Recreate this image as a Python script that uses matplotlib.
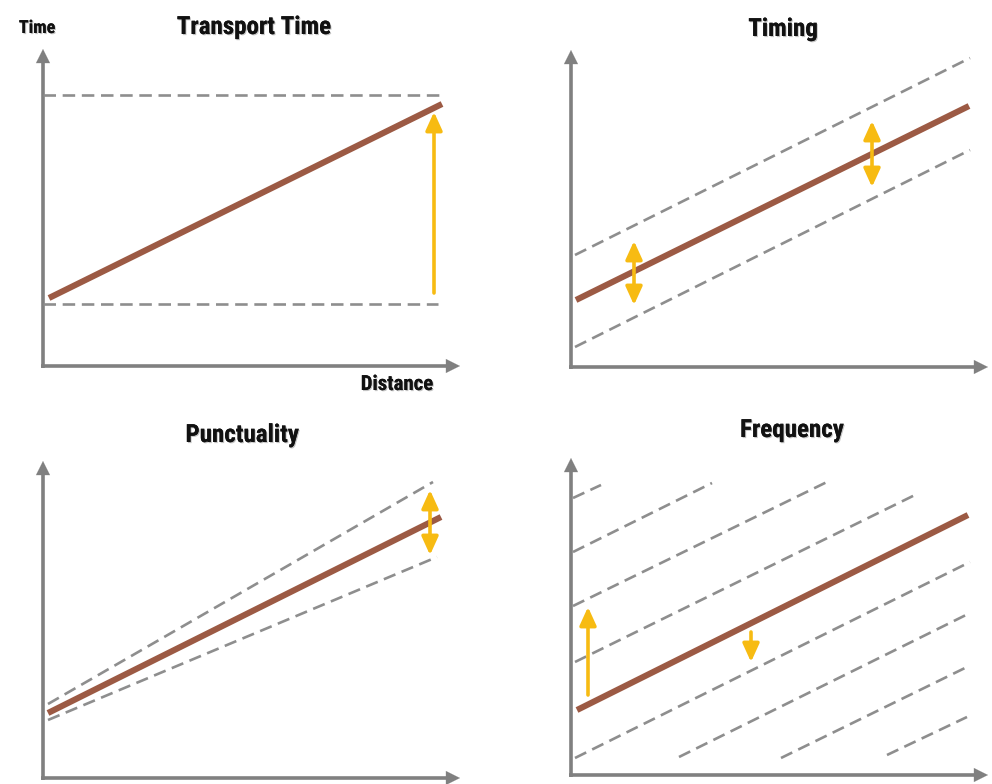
import matplotlib
matplotlib.use("Agg")
import matplotlib.pyplot as plt
import matplotlib.patheffects as pe

# ---------------- data (units: distance / time, origin at each panel's axes corner) -------------
# Panel 1: Transport Time
tt_line_x = [6, 399]
tt_line_y = [68, 262]
tt_upper_y = 271
tt_upper_x = [0, 400]
tt_lower_y = 62
tt_lower_x = [0, 395]
tt_arrow_x = 391
tt_arrow_y = [73, 254]

# Panel 2: Timing
tm_line_x = [5, 398]
tm_line_y = [67, 261]
tm_upper_x = [4, 399]
tm_upper_y = [112, 309]
tm_lower_x = [4, 399]
tm_lower_y = [20, 217]
tm_arrows_x = [63, 301]
tm_arrows_lo = [62, 180]
tm_arrows_hi = [126, 246]

# Panel 3: Punctuality
pc_line_x = [5, 398]
pc_line_y = [65, 261]
pc_upper_x = [5, 390]
pc_upper_y = [74, 296]
pc_lower_x = [5, 394]
pc_lower_y = [58, 221]
pc_arrow_x = 387
pc_arrow_y = [223, 288]

# Panel 4: Frequency
fq_line_x = [6, 397]
fq_line_y = [65, 260]
fq_dash_x0 = [2, 2, 2, 4, 4, 108, 210, 316]
fq_dash_y0 = [277, 223, 169, 113, 17, 18, 17, 20]
fq_dash_x1 = [30, 141, 258, 348, 399, 399, 396, 396]
fq_dash_y1 = [290, 292, 294, 282, 213, 162, 108, 58]
fq_up_x = 17
fq_up_y = [80, 168]
fq_down_x = 180
fq_down_y = [143, 113]

titles = ["Transport Time", "Timing", "Punctuality", "Frequency"]
y_label = "Time"
x_label = "Distance"

# ---------------- style ----------------
W, H = 992, 784
BROWN = "#9C5A44"
GOLD = "#F7BB12"
DASH = "#8E8E8E"
AXC = "#808080"
FONT = ["Roboto Condensed", "DejaVu Sans"]
XLEN, YLEN = 417, 317

plt.rcParams["lines.scale_dashes"] = False
fig = plt.figure(figsize=(W / 100, H / 100), dpi=100)
fig.patch.set_facecolor("white")

origins = [(43, 366), (571, 367), (43, 778), (571, 775)]
axes = []
for ox, oy in origins:
    ax = fig.add_axes([ox / W, (H - oy) / H, XLEN / W, YLEN / H])
    ax.set_xlim(0, XLEN)
    ax.set_ylim(0, YLEN)
    ax.axis("off")
    # axis arrows
    ax.plot([0, 0], [-2, YLEN - 12], color=AXC, lw=2.6, solid_capstyle="butt", clip_on=False)
    ax.plot([-2, XLEN - 12], [0, 0], color=AXC, lw=2.6, solid_capstyle="butt", clip_on=False)
    ax.annotate("", xy=(0, YLEN), xytext=(0, YLEN - 14),
                arrowprops=dict(arrowstyle="-|>,head_length=1.0,head_width=0.5",
                                color=AXC, lw=0.1, shrinkA=0, shrinkB=0, mutation_scale=10),
                annotation_clip=False)
    ax.annotate("", xy=(XLEN, 0), xytext=(XLEN - 14, 0),
                arrowprops=dict(arrowstyle="-|>,head_length=1.0,head_width=0.5",
                                color=AXC, lw=0.1, shrinkA=0, shrinkB=0, mutation_scale=10),
                annotation_clip=False)
    axes.append(ax)

dash_kw = dict(color=DASH, lw=1.9, linestyle=(0, (9.0, 4.8)), solid_capstyle="butt",
               dash_capstyle="butt", clip_on=False)
brown_kw = dict(color=BROWN, lw=4.4, solid_capstyle="butt", clip_on=False, zorder=5)


def arrow(ax, x, y0, y1, double=False):
    style = "<|-|>" if double else "-|>"
    ax.annotate("", xy=(x, y1), xytext=(x, y0),
                arrowprops=dict(arrowstyle=f"{style},head_length=0.55,head_width=0.25",
                                color=GOLD, lw=2.6, shrinkA=0, shrinkB=0, mutation_scale=20),
                annotation_clip=False, zorder=6)


# Panel 1
ax = axes[0]
ax.plot(tt_upper_x, [tt_upper_y, tt_upper_y], **dash_kw)
ax.plot(tt_lower_x, [tt_lower_y, tt_lower_y], **dash_kw)
ax.plot(tt_line_x, tt_line_y, **brown_kw)
arrow(ax, tt_arrow_x, tt_arrow_y[0], tt_arrow_y[1])

# Panel 2
ax = axes[1]
ax.plot(tm_upper_x, tm_upper_y, **dash_kw)
ax.plot(tm_lower_x, tm_lower_y, **dash_kw)
ax.plot(tm_line_x, tm_line_y, **brown_kw)
for x, lo, hi in zip(tm_arrows_x, tm_arrows_lo, tm_arrows_hi):
    arrow(ax, x, lo, hi, double=True)

# Panel 3
ax = axes[2]
ax.plot(pc_upper_x, pc_upper_y, **dash_kw)
ax.plot(pc_lower_x, pc_lower_y, **dash_kw)
ax.plot(pc_line_x, pc_line_y, **brown_kw)
arrow(ax, pc_arrow_x, pc_arrow_y[0], pc_arrow_y[1], double=True)

# Panel 4
ax = axes[3]
for x0, y0, x1, y1 in zip(fq_dash_x0, fq_dash_y0, fq_dash_x1, fq_dash_y1):
    ax.plot([x0, x1], [y0, y1], **dash_kw)
ax.plot(fq_line_x, fq_line_y, **brown_kw)
arrow(ax, fq_up_x, fq_up_y[0], fq_up_y[1])
arrow(ax, fq_down_x, fq_down_y[0], fq_down_y[1])

# ---------------- text ----------------
shadow = [pe.withSimplePatchShadow(offset=(0.8, -0.8), shadow_rgbFace="#555555", alpha=0.35),
          pe.Normal()]
title_pos = [(254, 34), (783, 36), (242, 442), (792, 437)]
for t, (x, y) in zip(titles, title_pos):
    fig.text(x / W, 1 - y / H, t, ha="center", va="baseline", fontsize=18,
             fontweight="bold", fontstretch="condensed", family=FONT, color="#111111",
             path_effects=shadow)

fig.text(37 / W, 1 - 33 / H, y_label, ha="center", va="baseline", fontsize=13,
         fontweight="bold", fontstretch="condensed", family=FONT, color="#111111",
         path_effects=shadow)
fig.text(397 / W, 1 - 390 / H, x_label, ha="center", va="baseline", fontsize=15,
         fontweight="bold", fontstretch="condensed", family=FONT, color="#111111",
         path_effects=shadow)

fig.savefig("out.png", dpi=100, facecolor="white")
